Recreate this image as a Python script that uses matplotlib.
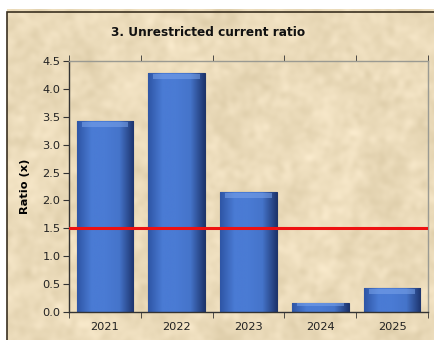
import numpy as np
import matplotlib
matplotlib.use("Agg")
import matplotlib.pyplot as plt
from matplotlib.colors import LinearSegmentedColormap
from matplotlib.patches import Rectangle

years = ["2021", "2022", "2023", "2024", "2025"]
ratios = [3.42, 4.28, 2.15, 0.16, 0.43]
benchmark = 1.5
y_ticks = [0.0, 0.5, 1.0, 1.5, 2.0, 2.5, 3.0, 3.5, 4.0, 4.5]

W, H = 435, 340
fig = plt.figure(figsize=(W / 100, H / 100), dpi=100)
fig.patch.set_facecolor("white")

# parchment-like backdrop inside a dark frame
bg = fig.add_axes([7 / W, 0, 1 - 7 / W, 1 - 9 / H])
bg.set_axis_off()
rng = np.random.default_rng(7)
def smooth_noise(shape, k):
    n = rng.standard_normal(shape)
    f = np.fft.fft2(n)
    fy = np.fft.fftfreq(shape[0])[:, None]
    fx = np.fft.fftfreq(shape[1])[None, :]
    f *= np.exp(-(fx ** 2 + fy ** 2) * k)
    r = np.real(np.fft.ifft2(f))
    return (r - r.mean()) / r.std()
tex = 0.5 * smooth_noise((331, 428), 150) + 0.5 * smooth_noise((331, 428), 1500)
base = np.array([235, 219, 186]) / 255.0
img = np.clip(base[None, None, :] + 0.022 * tex[..., None] * np.array([1.0, 1.05, 1.25]), 0, 1)
bg.imshow(img, aspect="auto", extent=[0, 1, 0, 1], interpolation="bilinear")
bg.set_xlim(0, 1)
bg.set_ylim(0, 1)
bg.add_patch(Rectangle((0.001, -0.01), 1.2, 1.0, fill=False, ec="#3a3020", lw=1.2,
                       transform=bg.transAxes, clip_on=False))

left, right, top, bottom = 69, 428, 61, 312
ax = fig.add_axes([left / W, 1 - bottom / H, (right - left) / W, (bottom - top) / H])
ax.patch.set_alpha(0)

x = np.arange(len(years))
bar_w = 0.79
bars = ax.bar(x, ratios, width=bar_w, color="#4473C8", edgecolor="#1f3468", lw=0.8, zorder=2)

# bevelled shading across each bar
shade = LinearSegmentedColormap.from_list(
    "shade", ["#2f56a6", "#4a7bd4", "#4a7bd4", "#4574ca", "#1e3670"])
grad = np.linspace(0, 1, 64)[None, :]
for b, v in zip(bars, ratios):
    x0 = b.get_x()
    im = ax.imshow(grad, cmap=shade, aspect="auto",
                   extent=[x0, x0 + bar_w, 0, v], zorder=2.1)
    im.set_clip_path(b)
    cap = min(0.09, v * 0.3)
    ax.add_patch(Rectangle((x0 + 0.07, v - cap * 1.1), bar_w - 0.14, cap,
                           color="#7aa3ea", alpha=0.55, lw=0, zorder=2.2))

ax.axhline(benchmark, color="#ee1111", lw=2.2, zorder=3)

ax.set_xlim(-0.5, len(years) - 0.5)
ax.set_ylim(0, 4.5)
ax.set_yticks(y_ticks)
ax.set_yticklabels([f"{t:.1f}" for t in y_ticks], fontsize=8.2, color="#222222")
ax.set_xticks(x)
ax.set_xticklabels(years, fontsize=8.2, color="#222222")
ax.tick_params(axis="x", length=0, pad=7)
ax.set_xticks(np.arange(len(years) + 1) - 0.5, minor=True)
ax.tick_params(axis="x", which="minor", length=4, direction="out", color="#333333",
               top=True)
ax.tick_params(axis="y", length=4, direction="out", color="#333333", pad=2)

for s in ["left", "bottom"]:
    ax.spines[s].set_color("#333333")
    ax.spines[s].set_linewidth(1.0)
for s in ["top", "right"]:
    ax.spines[s].set_color("#9a9a92")
    ax.spines[s].set_linewidth(1.0)

ax.set_ylabel("Ratio (x)", fontsize=8.2, fontweight="bold", labelpad=9)
fig.text(208 / W, 1 - 33 / H, "3. Unrestricted current ratio", ha="center", va="center",
         fontsize=8.7, fontweight="bold", color="#111111")

fig.savefig("out.png", dpi=100)
